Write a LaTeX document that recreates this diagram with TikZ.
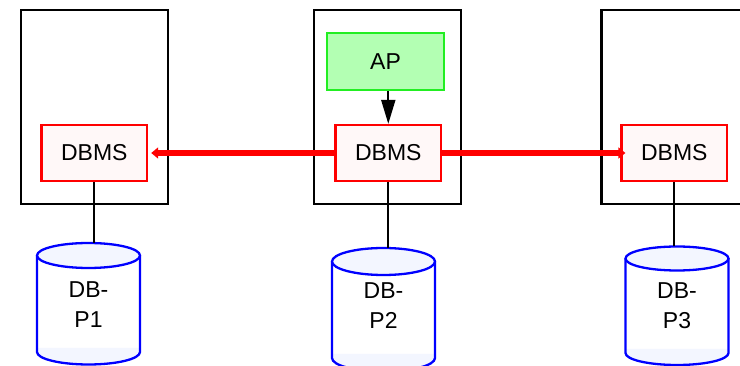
\documentclass[tikz,border=0pt]{standalone}
\usepackage{fontspec}
\setmainfont{Liberation Sans}
\usetikzlibrary{arrows.meta}
\definecolor{dbfill}{HTML}{FFF8F8}
\definecolor{apfill}{HTML}{B3FFB3}
\definecolor{apline}{HTML}{22EE22}
\definecolor{cylfill}{HTML}{F3F6FF}
\definecolor{cylline}{HTML}{0000FF}
\tikzset{
  host/.style={draw=black, line width=2.3pt, minimum width=147pt, minimum height=194pt, inner sep=0pt},
  dbms/.style={draw=red, fill=dbfill, line width=2.3pt, minimum width=105.5pt, minimum height=56pt, inner sep=0pt},
  apbox/.style={draw=apline, fill=apfill, line width=2.3pt, minimum width=117pt, minimum height=57pt, inner sep=0pt},
  cylbody/.style={draw=cylline, line width=2.3pt},
  cyltext/.style={align=center, inner sep=0pt},
  link/.style={draw=black, line width=2.3pt},
  callarrow/.style={draw=black, line width=2pt, -{Triangle[length=24pt,width=14pt]}},
  replarrow/.style={draw=red, line width=5.5pt, -{Triangle[length=7pt,width=11pt]}}
}
% #1 name, #2 cx, #3 y of top ellipse centre, #4 y of bottom ellipse centre, #5 ry, #6 text y, #7 label
\newcommand\dbcylinder[7]{%
  \fill[white] (#2-51.5,#3) -- (#2-51.5,#4)
     arc[start angle=180,end angle=0,x radius=51.5,y radius=#5]
     -- (#2+51.5,#3) -- cycle;
  \fill[cylfill] (#2-51.5,#4-4) -- (#2-51.5,#4)
     arc[start angle=180,end angle=0,x radius=51.5,y radius=#5]
     -- (#2+51.5,#4-4) -- cycle;
  \draw[cylbody] (#2-51.5,#3) -- (#2-51.5,#4)
     arc[start angle=180,end angle=0,x radius=51.5,y radius=#5]
     -- (#2+51.5,#3);
  \path[cylbody, fill=cylfill] (#2,#3) ellipse[x radius=51.5,y radius=#5];
  \coordinate (#1top) at (#2,#3-#5);
  \node[cyltext] (#1) at (#2,#6) {#7};
}
\begin{document}
\begin{tikzpicture}[x=1pt,y=-1pt,font=\fontsize{23}{30}\selectfont]
\clip (0,0) rectangle (740,366);
% hosts
\node[host] (h1) at (94.5,107) {};
\node[host] (h2) at (387.5,107) {};
\node[host] (h3) at (675,107) {};
% boxes
\node[apbox] (ap) at (385.5,61.5) {AP};
\node[dbms] (d1) at (94.3,153) {DBMS};
\node[dbms] (d2) at (388.3,153) {DBMS};
\node[dbms] (d3) at (674.3,153) {DBMS};
% databases
\dbcylinder{c1}{88.5}{255.5}{352}{12.5}{305}{DB-\\P1}
\dbcylinder{c2}{383.5}{261.5}{358}{13.5}{306}{DB-\\P2}
\dbcylinder{c3}{677}{258.5}{353}{12}{305.5}{DB-\\P3}
% connectors
\draw[link] (d1.south) -- (d1.south |- c1top);
\draw[link] (d2.south) -- (d2.south |- c2top);
\draw[link] (d3.south) -- (d3.south |- c3top);
\draw[callarrow] (d2.north |- ap.south) -- (d2.north);
\draw[replarrow, shorten >=3pt] (d2.west) -- (d1.east);
\draw[replarrow, shorten >=-5pt] (d2.east) -- (d3.west);
\end{tikzpicture}
\end{document}
